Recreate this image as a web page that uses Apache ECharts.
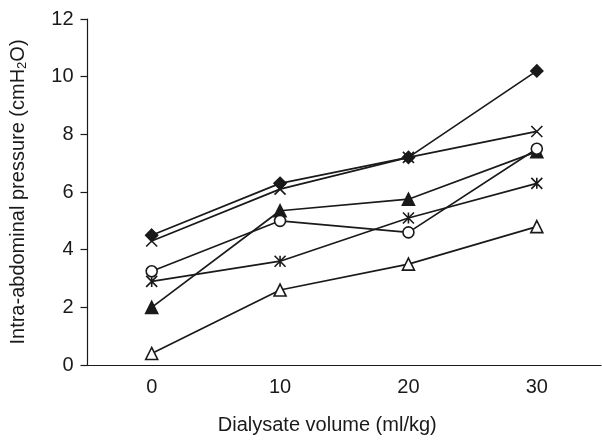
<!DOCTYPE html>
<html>
<head>
<meta charset="utf-8">
<script src="https://cdn.jsdelivr.net/npm/echarts@6/dist/echarts.min.js"></script>
<style>
  html, body { margin: 0; padding: 0; background: #fff; }
  #chart { width: 602px; height: 440px; }
</style>
</head>
<body>
<div id="chart"></div>
<script>
// dialysate volume (ml/kg)
const volumes = ['0', '10', '20', '30'];

// intra-abdominal pressure per patient (cmH2O)
const diamondVals = [4.5, 6.3, 7.2, 10.2];
const crossVals = [4.3, 6.1, 7.2, 8.1];
const filledTriVals = [2.0, 5.35, 5.75, 7.4];
const circleVals = [3.25, 5.0, 4.6, 7.5];
const starVals = [2.9, 3.6, 5.1, 6.3];
const openTriVals = [0.4, 2.6, 3.5, 4.8];

const yTicks = [0, 12, 2]; // min, max, interval

const FONT = 'Liberation Sans';
const INK = '#1a1a1a';

const CROSS = 'path://M0,0L10,10M10,0L0,10';
const STAR = 'path://M0,0L10,10M10,0L0,10M5,0L5,10';

function mkSeries(data, symbol, fill, size) {
  return {
    type: 'line',
    data: data,
    symbol: symbol,
    symbolSize: size,
    z: 3,
    lineStyle: { color: INK, width: 1.7 },
    itemStyle: { color: fill, borderColor: INK, borderWidth: 1.6 },
    emphasis: { disabled: true }
  };
}

const chart = echarts.init(document.getElementById('chart'));

chart.setOption({
  animation: false,
  backgroundColor: '#fff',
  grid: { left: 87, right: 1, top: 19, bottom: 74 },
  xAxis: {
    type: 'category',
    data: volumes,
    boundaryGap: true,
    name: 'Dialysate volume (ml/kg)',
    nameLocation: 'middle',
    nameGap: 50,
    nameTextStyle: { fontFamily: FONT, fontSize: 20, color: INK, padding: [0, 34, 0, 0] },
    axisLine: { lineStyle: { color: INK, width: 1.2 } },
    axisTick: { length: 7, lineStyle: { color: INK, width: 1.2 } },
    axisLabel: { fontFamily: FONT, fontSize: 20, color: INK, margin: 12 },
    splitLine: { show: false }
  },
  yAxis: {
    type: 'value',
    min: yTicks[0],
    max: yTicks[1],
    interval: yTicks[2],
    name: 'Intra-abdominal pressure (cmH{sub|2}O)',
    nameLocation: 'middle',
    nameGap: 59,
    nameTextStyle: {
      fontFamily: FONT, fontSize: 20, color: INK,
      rich: { sub: { fontFamily: FONT, fontSize: 13, color: INK, padding: [8, 0, 0, 0] } }
    },
    axisLine: { show: true, lineStyle: { color: INK, width: 1.2 } },
    axisTick: { show: true, length: 7, lineStyle: { color: INK, width: 1.2 } },
    axisLabel: { fontFamily: FONT, fontSize: 20, color: INK, margin: 14 },
    splitLine: { show: false }
  },
  series: [
    mkSeries(diamondVals, 'diamond', INK, 12),
    mkSeries(crossVals, CROSS, 'none', 11),
    mkSeries(filledTriVals, 'triangle', INK, 12),
    mkSeries(circleVals, 'circle', '#fff', 11),
    mkSeries(starVals, STAR, 'none', 11),
    mkSeries(openTriVals, 'triangle', '#fff', 12)
  ]
});
</script>
</body>
</html>
